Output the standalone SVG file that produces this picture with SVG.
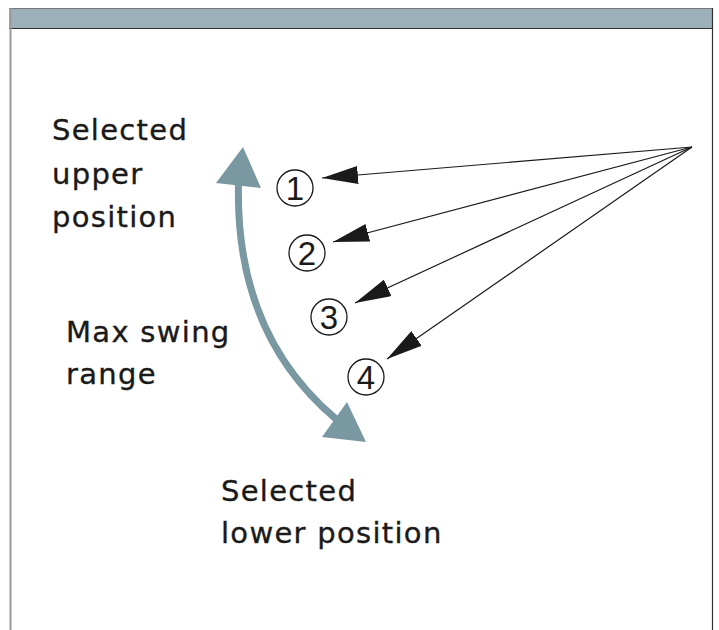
<svg xmlns="http://www.w3.org/2000/svg" width="719" height="630" viewBox="0 0 719 630">
<defs>
<style>
.lbl{font-family:"DejaVu Sans","Liberation Sans",sans-serif;font-size:29px;fill:#1a1a1a;stroke:#1a1a1a;stroke-width:0.35;letter-spacing:1.3px}
.num{font-family:"Liberation Sans Narrow","Liberation Sans",sans-serif;font-size:33px;fill:#1a1a1a;text-anchor:middle}
.ring{fill:none;stroke:#1a1a1a;stroke-width:1.3}
.ptr{stroke:#1a1a1a;stroke-width:1.2;fill:none}
.swing{fill:none;stroke:#7a98a2;stroke-width:7}
.swinghead{fill:#7a98a2}
</style>
<marker id="ah" markerUnits="userSpaceOnUse" markerWidth="36" markerHeight="18" refX="36" refY="9" orient="auto">
<path d="M0,0 L36,9 L0,18 z" fill="#1a1a1a"/>
</marker>
</defs>
<rect x="0" y="0" width="719" height="630" fill="#fff"/>
<g id="frame">
<rect x="9" y="8" width="704" height="20" fill="#9bb0b8"/>
<line x1="9" y1="8.5" x2="713" y2="8.5" stroke="#777" stroke-width="1"/>
<line x1="9" y1="28.5" x2="713" y2="28.5" stroke="#333" stroke-width="1.2"/>
<line x1="10.5" y1="8" x2="10.5" y2="630" stroke="#999" stroke-width="2"/>
<line x1="712.5" y1="8" x2="712.5" y2="630" stroke="#333" stroke-width="1.2"/>
</g>
<g id="label-upper">
<text class="lbl" x="52" y="140">Selected</text>
<text class="lbl" x="52" y="184">upper</text>
<text class="lbl" x="52" y="227">position</text>
</g>
<g id="label-range">
<text class="lbl" x="66" y="342">Max swing</text>
<text class="lbl" x="66" y="384">range</text>
</g>
<g id="label-lower">
<text class="lbl" x="221" y="501">Selected</text>
<text class="lbl" x="221" y="543">lower position</text>
</g>
<g id="swing-arrow">
<path class="swing" d="M238.5,184 C236,290 272,365 336,419"/>
<polygon class="swinghead" points="243,147 261,188 216,183"/>
<polygon class="swinghead" points="366,442 322,437 347,402"/>
</g>
<g id="pos1"><circle class="ring" cx="295" cy="188" r="18"/><text class="num" x="295" y="200">1</text></g>
<g id="pos2"><circle class="ring" cx="307" cy="253" r="18"/><text class="num" x="307" y="265">2</text></g>
<g id="pos3"><circle class="ring" cx="329" cy="317" r="18"/><text class="num" x="329" y="329">3</text></g>
<g id="pos4"><circle class="ring" cx="366" cy="377" r="18"/><text class="num" x="366" y="389">4</text></g>
<g id="connectors">
<line class="ptr" x1="692" y1="147" x2="322" y2="178" marker-end="url(#ah)"/>
<line class="ptr" x1="692" y1="147" x2="333" y2="242" marker-end="url(#ah)"/>
<line class="ptr" x1="692" y1="147" x2="355" y2="303" marker-end="url(#ah)"/>
<line class="ptr" x1="692" y1="147" x2="387" y2="359" marker-end="url(#ah)"/>
</g>
</svg>
